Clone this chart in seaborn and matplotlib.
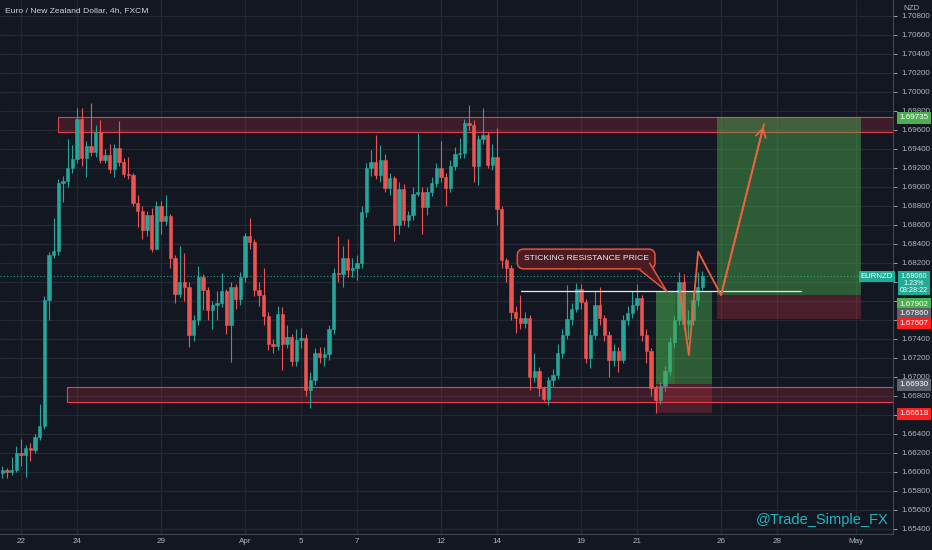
import seaborn as sns
import matplotlib.pyplot as plt
import matplotlib.transforms as mtransforms
from matplotlib.patches import Polygon
import pandas as pd
import numpy as np

# EURNZD 4h candles, bar 0 = Mon 22 Mar 00:00 (weekends skipped)
bars = np.arange(-4, 147)
first_open = 1.6599
closes = [
    1.6602, 1.6600, 1.6602, 1.6620,                                   # -4..-1
    1.6618, 1.6625, 1.6623, 1.6637, 1.6648, 1.6781, 1.6828, 1.6833, 1.6904, 1.6906,   # 0-9
    1.6920, 1.6929, 1.6972, 1.6930, 1.6943, 1.6937, 1.6958, 1.6928, 1.6934, 1.6919,   # 10-19
    1.6941, 1.6926, 1.6914, 1.6913, 1.6883, 1.6875, 1.6855, 1.6870, 1.6835, 1.6880,   # 20-29
    1.6864, 1.6869, 1.6825, 1.6787, 1.6800, 1.6795, 1.6744, 1.6760, 1.6805, 1.6792,   # 30-39
    1.6770, 1.6776, 1.6778, 1.6790, 1.6755, 1.6795, 1.6782, 1.6805, 1.6848, 1.6842,   # 40-49
    1.6792, 1.6786, 1.6764, 1.6735, 1.6733, 1.6766, 1.6735, 1.6742, 1.6717, 1.6739,   # 50-59
    1.6741, 1.6686, 1.6697, 1.6725, 1.6721, 1.6724, 1.6750, 1.6809, 1.6808, 1.6825,   # 60-69
    1.6813, 1.6815, 1.6820, 1.6874, 1.6920, 1.6926, 1.6913, 1.6928, 1.6899, 1.6909,   # 70-79
    1.6860, 1.6898, 1.6865, 1.6871, 1.6893, 1.6895, 1.6879, 1.6895, 1.6904, 1.6920,   # 80-89
    1.6910, 1.6899, 1.6922, 1.6935, 1.6936, 1.6967, 1.6965, 1.6922, 1.6950, 1.6955,   # 90-99
    1.6923, 1.6932, 1.6877, 1.6823, 1.6815, 1.6768, 1.6762, 1.6757, 1.6762, 1.6700,   # 100-109
    1.6706, 1.6688, 1.6677, 1.6697, 1.6702, 1.6725, 1.6744, 1.6761, 1.6772, 1.6793,   # 110-119
    1.6779, 1.6720, 1.6744, 1.6776, 1.6762, 1.6744, 1.6718, 1.6727, 1.6718, 1.6760,   # 120-129
    1.6767, 1.6776, 1.6783, 1.6744, 1.6727, 1.6688, 1.6676, 1.6690, 1.6706, 1.6737,   # 130-139
    1.6760, 1.6800, 1.6756, 1.6760, 1.6781, 1.6795, 1.6806,                           # 140-146
]
highs = [
    1.6606, 1.6604, 1.6616, 1.6627,
    1.6635, 1.6628, 1.6630, 1.6640, 1.6672, 1.6785, 1.6832, 1.6867, 1.6908, 1.6912,
    1.6950, 1.6944, 1.6983, 1.6983, 1.6948, 1.6988, 1.6965, 1.6970, 1.6940, 1.6945,
    1.6945, 1.6969, 1.6930, 1.6932, 1.6915, 1.6892, 1.6880, 1.6875, 1.6878, 1.6885,
    1.6885, 1.6892, 1.6872, 1.6828, 1.6838, 1.6830, 1.6800, 1.6765, 1.6817, 1.6808,
    1.6795, 1.6780, 1.6790, 1.6809, 1.6793, 1.6800, 1.6798, 1.6810, 1.6852, 1.6867,
    1.6845, 1.6800, 1.6815, 1.6768, 1.6740, 1.6775, 1.6774, 1.6755, 1.6745, 1.6750,
    1.6752, 1.6745, 1.6705, 1.6730, 1.6732, 1.6732, 1.6755, 1.6815, 1.6848, 1.6838,
    1.6845, 1.6825, 1.6828, 1.6880, 1.6925, 1.6939, 1.6955, 1.6944, 1.6935, 1.6915,
    1.6912, 1.6905, 1.6903, 1.6875, 1.6900, 1.6957, 1.6900, 1.6900, 1.6910, 1.6925,
    1.6948, 1.6915, 1.6928, 1.6942, 1.6952, 1.6972, 1.6986, 1.6970, 1.6955, 1.6983,
    1.6958, 1.6945, 1.6962, 1.6880, 1.6825, 1.6818, 1.6775, 1.6786, 1.6768, 1.6765,
    1.6725, 1.6710, 1.6690, 1.6700, 1.6708, 1.6735, 1.6751, 1.6797, 1.6778, 1.6799,
    1.6798, 1.6782, 1.6750, 1.6790, 1.6795, 1.6765, 1.6748, 1.6735, 1.6732, 1.6765,
    1.6775, 1.6790, 1.6798, 1.6786, 1.6750, 1.6730, 1.6692, 1.6695, 1.6712, 1.6742,
    1.6765, 1.6810, 1.6808, 1.6770, 1.6790, 1.6810, 1.6812,
]
lows = [
    1.6594, 1.6594, 1.6597, 1.6600,
    1.6606, 1.6595, 1.6612, 1.6620, 1.6634, 1.6645, 1.6760, 1.6825, 1.6828, 1.6884,
    1.6900, 1.6915, 1.6925, 1.6922, 1.6911, 1.6933, 1.6932, 1.6925, 1.6925, 1.6915,
    1.6910, 1.6922, 1.6910, 1.6908, 1.6880, 1.6858, 1.6845, 1.6848, 1.6832, 1.6840,
    1.6850, 1.6860, 1.6815, 1.6778, 1.6784, 1.6780, 1.6732, 1.6738, 1.6755, 1.6770,
    1.6760, 1.6750, 1.6760, 1.6774, 1.6745, 1.6716, 1.6772, 1.6776, 1.6800, 1.6835,
    1.6785, 1.6775, 1.6755, 1.6728, 1.6725, 1.6728, 1.6707, 1.6730, 1.6712, 1.6712,
    1.6730, 1.6680, 1.6667, 1.6692, 1.6715, 1.6712, 1.6718, 1.6745, 1.6800, 1.6795,
    1.6805, 1.6805, 1.6802, 1.6815, 1.6868, 1.6912, 1.6908, 1.6905, 1.6895, 1.6892,
    1.6843, 1.6850, 1.6860, 1.6858, 1.6865, 1.6890, 1.6850, 1.6870, 1.6890, 1.6900,
    1.6905, 1.6880, 1.6895, 1.6918, 1.6930, 1.6930, 1.6960, 1.6905, 1.6902, 1.6945,
    1.6920, 1.6918, 1.6860, 1.6815, 1.6800, 1.6760, 1.6746, 1.6750, 1.6752, 1.6686,
    1.6695, 1.6680, 1.6675, 1.6670, 1.6690, 1.6698, 1.6720, 1.6740, 1.6755, 1.6768,
    1.6772, 1.6715, 1.6709, 1.6740, 1.6755, 1.6738, 1.6700, 1.6712, 1.6705, 1.6715,
    1.6755, 1.6762, 1.6770, 1.6738, 1.6715, 1.6680, 1.6662, 1.6672, 1.6685, 1.6702,
    1.6732, 1.6755, 1.6750, 1.6740, 1.6755, 1.6775, 1.6792,
]

# x axis labels
tick_bars = [0, 12, 30, 48, 60, 72, 90, 102, 120, 132, 150, 162, 179]
tick_labels = ["22", "24", "29", "Apr", "5", "7", "12", "14", "19", "21", "26", "28", "May"]
price_ticks = np.arange(1.654, 1.7081, 0.002)
hidden_ticks = ["1.68000", "1.67800", "1.67600", "1.66600"]  # covered by price tags

# drawings
res_zone = (1.69582, 1.69740)
sup_zone = (1.66740, 1.66898)
resistance_line = 1.67902
last_price = 1.68060
# long position 1 (entry 1.66930, tp 1.67902, sl 1.66618)
pos1 = dict(entry=1.66930, tp=1.67902, sl=1.66618)
# long position 2 (entry 1.67860, tp 1.69735, sl 1.67607)
pos2 = dict(entry=1.67860, tp=1.69735, sl=1.67607)
proj_bars = [141.2, 143.1, 145.1, 150.0, 159.2]
proj_prices = [1.6790, 1.6723, 1.6832, 1.6786, 1.6966]

BG = "#131722"
GRID = "#242935"
TXT = "#b2b5be"
UP = "#26a69a"
DOWN = "#ef5350"

sns.set_theme(style="dark", rc={"axes.facecolor": BG, "figure.facecolor": BG,
                                 "axes.edgecolor": "#434651", "text.color": TXT})
plt.rcParams["font.family"] = ["Liberation Sans", "DejaVu Sans"]

df = pd.DataFrame({"bar": bars, "close": closes, "high": highs, "low": lows})
df["open"] = [first_open] + closes[:-1]
df["up"] = df["close"] >= df["open"]
df["color"] = np.where(df["up"], UP, DOWN)

fig = plt.figure(figsize=(9.32, 5.5), dpi=100)
ax = fig.add_axes([0, 16 / 550, 893 / 932, 534 / 550])
ax.set_xlim(-4.5, 186.85)
ax.set_ylim(1.65347, 1.70968)

# grid
for b in tick_bars:
    ax.axvline(b, color=GRID, lw=0.9, zorder=0)
for p in price_ticks:
    ax.axhline(p, color=GRID, lw=0.9, zorder=0)

# zones
for lo, hi, x0 in [(res_zone[0], res_zone[1], 7.9), (sup_zone[0], sup_zone[1], 9.9)]:
    ax.fill_between([x0, 200], lo, hi, color="#f23645", alpha=0.18, lw=0, zorder=1)
    ax.plot([x0, 200, 200, x0, x0], [lo, lo, hi, hi, lo], color="#e8404a", lw=0.8, zorder=1)

# candles
ax.vlines(df["bar"], np.minimum(df["low"], df[["open", "close"]].min(axis=1)),
          np.maximum(df["high"], df[["open", "close"]].max(axis=1)),
          colors=df["color"], lw=0.8, zorder=3)
ax.bar(df["bar"], df["close"] - df["open"], bottom=df["open"], width=0.66,
       color=df["color"], edgecolor=df["color"], linewidth=0.4, zorder=3)

# position tools
ax.fill_between([136.06, 148.06], pos1["entry"], pos1["tp"], color="#4caf50", alpha=0.45, lw=0, zorder=4)
ax.fill_between([136.06, 140.1], pos1["entry"], pos1["tp"], color="#4caf50", alpha=0.2, lw=0, zorder=4)
ax.fill_between([136.06, 148.06], pos1["sl"], pos1["entry"], color="#f23645", alpha=0.25, lw=0, zorder=4)
ax.fill_between([149.07, 179.9], pos2["entry"], pos2["tp"], color="#4caf50", alpha=0.45, lw=0, zorder=4)
ax.fill_between([149.07, 179.9], pos2["sl"], pos2["entry"], color="#f23645", alpha=0.25, lw=0, zorder=4)

# lines
ax.axhline(last_price, color=UP, lw=0.8, ls=(0, (1, 2)), zorder=2)
ax.plot([107.2, 167.1], [resistance_line, resistance_line], color="#e8eaee", lw=0.9, zorder=5)
sns.lineplot(x=proj_bars, y=proj_prices, sort=False, color="#f0603e", lw=1.3, ax=ax, zorder=6)
ax.annotate("", xy=(proj_bars[-1], proj_prices[-1]), xytext=(proj_bars[-2], proj_prices[-2]),
            arrowprops=dict(arrowstyle="->,head_length=0.5,head_width=0.3", color="#f0603e", lw=1.3),
            zorder=6)

# callout
ax.text(121.1, 1.68242, "STICKING RESISTANCE PRICE", color="#f2f2f2", fontsize=6.1,
        ha="center", va="center", zorder=8,
        bbox=dict(boxstyle="round,pad=0.75", fc="#4a1c22", ec="#e5533f", lw=1.1))
ax.add_patch(Polygon([(132.6, 1.68135), (138.36, 1.67903), (134.6, 1.68190)],
                     closed=True, fc="#4a1c22", ec="none", zorder=8.5))
ax.plot([132.6, 138.36, 134.7], [1.68127, 1.67903, 1.68199], color="#e5533f", lw=1.1, zorder=8.6)

# axes styling
ax.yaxis.tick_right()
ax.set_yticks(price_ticks)
ylabels = [f"{p:.5f}" for p in price_ticks]
ax.set_yticklabels(["" if s in hidden_ticks else s for s in ylabels])
ax.set_xticks(tick_bars)
ax.set_xticklabels(tick_labels)
ax.tick_params(axis="y", colors=TXT, labelsize=5.8, length=3, width=0.6, pad=3)
ax.tick_params(axis="x", colors=TXT, labelsize=5.8, length=0, pad=3)
for s in ["top", "left"]:
    ax.spines[s].set_visible(False)
ax.spines["right"].set_color("#434651")
ax.spines["bottom"].set_color("#434651")
ax.spines["right"].set_linewidth(0.8)
ax.spines["bottom"].set_linewidth(0.8)

# price labels on the scale
trans = mtransforms.blended_transform_factory(ax.transAxes, ax.transData)
scale_labels = [
    ("1.69735", 1.69726, "#4caf50"),
    ("1.67902", 1.67768, "#4caf50"),
    ("1.67860", 1.67663, "#5d606b"),
    ("1.67607", 1.67563, "#ff1f1f"),
    ("1.66930", 1.66916, "#5d606b"),
    ("1.66618", 1.66611, "#ff1f1f"),
]
for txt, y, c in scale_labels:
    ax.text(1.0075, y, txt, transform=trans, color="white", fontsize=5.8, ha="left", va="center",
            zorder=10, clip_on=False, bbox=dict(boxstyle="square,pad=0.28", fc=c, ec="none"))
ax.text(1.0075, 1.68098, "1.68060\n1.23%\n03:28:22", transform=trans, color="white", fontsize=5.2,
        ha="left", va="top", multialignment="center", linespacing=1.0, zorder=10, clip_on=False,
        bbox=dict(boxstyle="square,pad=0.25", fc="#22ab94", ec="none"))
ax.text(0.982, last_price, "EURNZD", transform=trans, color="white", fontsize=5.6, ha="center",
        va="center", zorder=10, clip_on=False,
        bbox=dict(boxstyle="square,pad=0.28", fc="#22ab94", ec="none"))

fig.text(912 / 932, 1 - 9 / 550, "NZD", color=TXT, fontsize=5.8, ha="center", va="center")
fig.text(5 / 932, 1 - 11 / 550, "Euro / New Zealand Dollar, 4h, FXCM", color="#d1d4dc",
         fontsize=6.1, ha="left", va="center")
fig.text(889 / 932, 1 - 520 / 550, "@Trade_Simple_FX", color="#22b5bf", fontsize=10.5,
         ha="right", va="center")

fig.savefig("out.png", dpi=100, facecolor=BG)
plt.close(fig)
